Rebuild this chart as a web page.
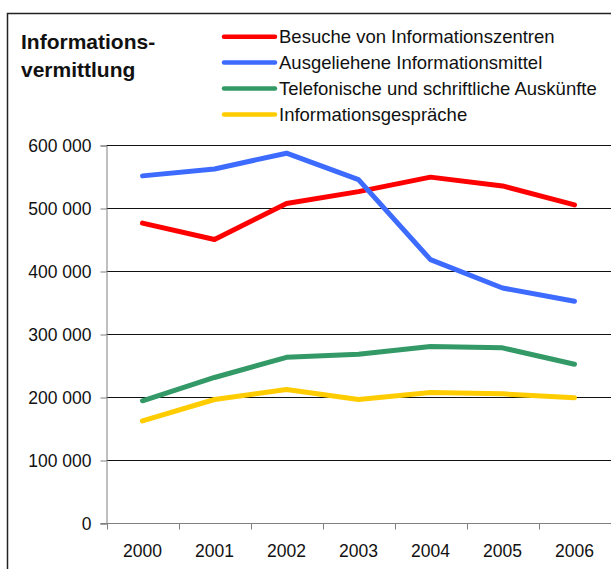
<!DOCTYPE html>
<html>
<head>
<meta charset="utf-8">
<script src="https://cdn.jsdelivr.net/npm/d3@7"></script>
<style>
  body { margin: 0; background: #fff; }
  svg { display: block; font-family: 'Liberation Sans', Arial, sans-serif; }
</style>
</head>
<body>
<div id="chart"></div>
<script>
const years = ['2000', '2001', '2002', '2003', '2004', '2005', '2006'];
const seriesNames = [
  'Besuche von Informationszentren',
  'Ausgeliehene Informationsmittel',
  'Telefonische und schriftliche Auskünfte',
  'Informationsgespräche',
];
const seriesColors = ['#ff0000', '#3d6bff', '#339966', '#ffcc00'];
const besuche = [476000, 450000, 507000, 526000, 549000, 535000, 505000];
const ausgeliehen = [551000, 562000, 587000, 545000, 418000, 373000, 352000];
const telefonisch = [194000, 231000, 263000, 268000, 280000, 278000, 252000];
const gespraeche = [162000, 196000, 212000, 196000, 207000, 205000, 199000];
const yTicks = [0, 100000, 200000, 300000, 400000, 500000, 600000];

const w = 611;
const h = 569;
const margin = { top: 145, right: 0, bottom: 46, left: 106.5 };

const svg = d3
  .select('#chart')
  .append('svg')
  .attr('width', w)
  .attr('height', h);

// outer frame, runs off the right and bottom edges
svg
  .append('rect')
  .attr('x', 7.5)
  .attr('y', 13.5)
  .attr('width', 700)
  .attr('height', 700)
  .attr('fill', 'none')
  .attr('stroke', '#222')
  .attr('stroke-width', 1.5);

const fmt = d3.formatLocale({
  decimal: ',',
  thousands: ' ',
  grouping: [3],
  currency: ['', ''],
}).format(',d');

const xScale = d3
  .scaleBand()
  .domain(years)
  .range([margin.left, margin.left + 72 * years.length]);
const yScale = d3
  .scaleLinear()
  .domain([0, 600000])
  .range([523, 145]);

// gridlines
svg
  .append('g')
  .selectAll('line')
  .data(yTicks.filter(d => d > 0))
  .enter()
  .append('line')
  .attr('x1', margin.left)
  .attr('x2', w)
  .attr('y1', d => Math.round(yScale(d)) + 0.5)
  .attr('y2', d => Math.round(yScale(d)) + 0.5)
  .attr('stroke', '#111')
  .attr('stroke-width', 1);

// y axis
const yAxis = d3
  .axisLeft(yScale)
  .tickValues(yTicks)
  .tickFormat(fmt)
  .tickSize(6)
  .tickPadding(9);
const gy = svg
  .append('g')
  .attr('transform', 'translate(' + margin.left + ',0.5)')
  .call(yAxis);
gy.select('.domain').attr('stroke', '#808080');
gy.selectAll('.tick line').attr('stroke', '#808080');
gy.selectAll('text')
  .attr('font-size', '17.5px')
  .attr('fill', '#111')
  .attr('font-family', "'Liberation Sans', Arial, sans-serif");

// x axis
const xAxis = d3
  .axisBottom(xScale)
  .tickSizeInner(0)
  .tickSizeOuter(0)
  .tickPadding(21);
const gx = svg
  .append('g')
  .attr('transform', 'translate(0,' + (Math.round(yScale(0)) + 0.5) + ')')
  .call(xAxis);
gx.select('.domain').remove();
gx.append('line')
  .attr('x1', margin.left - 6)
  .attr('x2', w)
  .attr('stroke', '#808080');
gx.selectAll('.boundary')
  .data(d3.range(years.length + 1))
  .enter()
  .append('line')
  .attr('class', 'boundary')
  .attr('x1', i => Math.round(margin.left + xScale.step() * i) + 0.5)
  .attr('x2', i => Math.round(margin.left + xScale.step() * i) + 0.5)
  .attr('y1', 0)
  .attr('y2', 6)
  .attr('stroke', '#808080');
gx.selectAll('text')
  .attr('font-size', '17.5px')
  .attr('fill', '#111')
  .attr('font-family', "'Liberation Sans', Arial, sans-serif");

// lines
const allSeries = [besuche, ausgeliehen, telefonisch, gespraeche];
const line = d3
  .line()
  .x((d, i) => xScale(years[i]) + xScale.bandwidth() / 2)
  .y(d => yScale(d));

// draw order: yellow, green, red, blue
[3, 2, 0, 1].forEach(k => {
  svg
    .append('path')
    .datum(allSeries[k])
    .attr('d', line)
    .attr('fill', 'none')
    .attr('stroke', seriesColors[k])
    .attr('stroke-width', 5)
    .attr('stroke-linejoin', 'round')
    .attr('stroke-linecap', 'round');
});

// title
const title = svg
  .append('text')
  .attr('x', 21)
  .attr('font-size', '21px')
  .attr('font-weight', 'bold')
  .attr('fill', '#111');
title.append('tspan').attr('x', 21).attr('y', 49).text('Informations-');
title.append('tspan').attr('x', 21).attr('y', 77).text('vermittlung');

// legend
const legend = svg
  .append('g')
  .selectAll('g')
  .data(seriesNames)
  .enter()
  .append('g')
  .attr('transform', (d, i) => 'translate(222,' + (36.7 + i * 25.9) + ')');
legend
  .append('line')
  .attr('x1', 2)
  .attr('x2', 53)
  .attr('stroke', (d, i) => seriesColors[i])
  .attr('stroke-width', 4.5)
  .attr('stroke-linecap', 'round');
legend
  .append('text')
  .attr('x', 57)
  .attr('y', 6.5)
  .attr('font-size', '18.5px')
  .attr('fill', '#111')
  .text(d => d);
</script>
</body>
</html>
